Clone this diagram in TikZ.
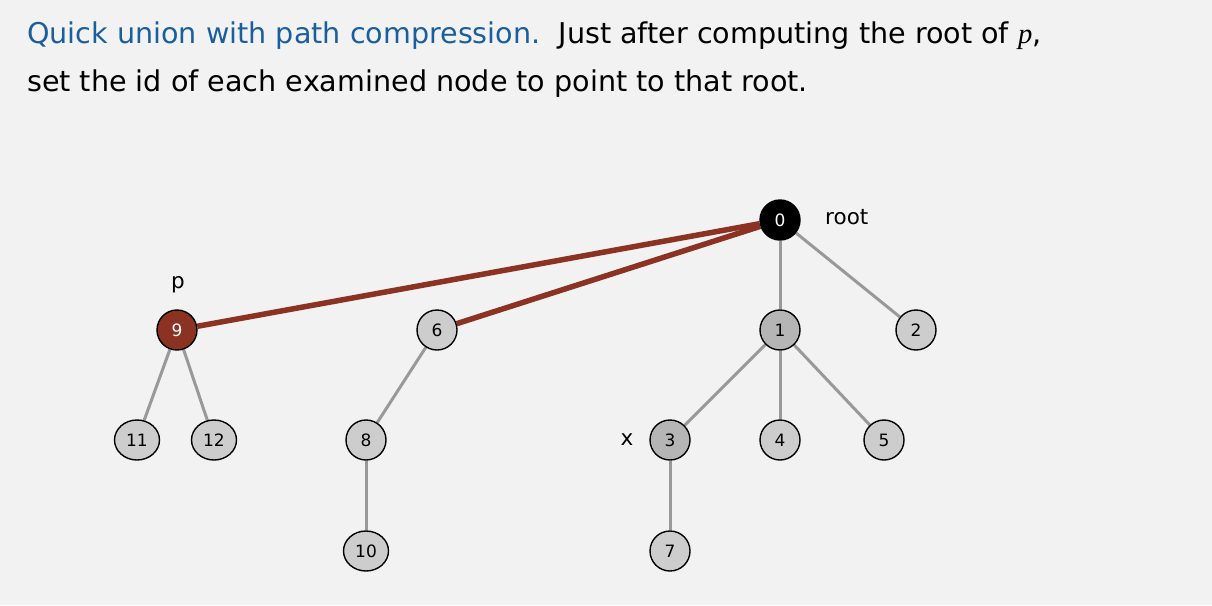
\documentclass[tikz,border=0pt]{standalone}
\usepackage{fontspec}
\setmainfont{DejaVu Sans}
\newfontfamily\serifit{Liberation Serif}
\usetikzlibrary{shapes.geometric,backgrounds}
\definecolor{bgc}{HTML}{F2F2F2}
\definecolor{titleblue}{HTML}{1A5E9E}
\definecolor{pathred}{HTML}{8B3222}
\definecolor{edgegray}{HTML}{999999}
\definecolor{nodegray}{HTML}{CDCDCD}
\definecolor{darkgray}{HTML}{B5B5B5}
\tikzset{
  tnode/.style={ellipse, draw=black, line width=1.4pt, fill=nodegray, minimum width=40, minimum height=40, inner sep=0pt, font=\fontsize{17}{17}\selectfont},
  wnode/.style={tnode, minimum width=45},
  dnode/.style={tnode, fill=darkgray},
  rnode/.style={tnode, fill=pathred, text=white},
  bnode/.style={tnode, fill=black, text=white},
  tedge/.style={draw=edgegray, line width=3pt},
  pedge/.style={draw=pathred, line width=5.5pt},
  lbl/.style={font=\fontsize{21.5}{21.5}\selectfont, inner sep=0pt},
  ttl/.style={anchor=base west, inner sep=0pt, font=\fontsize{28.6}{28.6}\selectfont},
}
\begin{document}
\begin{tikzpicture}[x=1pt,y=-1pt]
\useasboundingbox (0,0) rectangle (1212,605);
\node[ttl] (t1) at (27,43) {\textcolor{titleblue}{Quick union with path compression.}\ \ Just after computing the root of {\serifit\itshape p},};
\node[ttl] (t2) at (27,91) {set the id of each examined node to point to that root.};

\node[bnode] (n0) at (780,220) {0};
\node[rnode] (n9) at (177,330) {9};
\node[tnode] (n6) at (437,330) {6};
\node[dnode] (n1) at (780,330) {1};
\node[tnode] (n2) at (916,330) {2};
\node[wnode] (n11) at (137,440) {11};
\node[wnode] (n12) at (214,440) {12};
\node[tnode] (n8) at (366,440) {8};
\node[dnode] (n3) at (670,440) {3};
\node[tnode] (n4) at (780,440) {4};
\node[tnode] (n5) at (884,440) {5};
\node[wnode] (n10) at (366,551) {10};
\node[tnode] (n7) at (670,551) {7};

\node[lbl] (lp) at (178,285) {p};
\node[lbl, anchor=west] (lroot) at (825,217) {root};
\node[lbl] (lx) at (627,440) {x};

\begin{scope}[on background layer]
\fill[bgc] (0,0) rectangle (1212,605);
\draw[tedge] (n9) -- (n11);
\draw[tedge] (n9) -- (n12);
\draw[tedge] (n6) -- (n8);
\draw[tedge] (n8) -- (n10);
\draw[tedge] (n0) -- (n1);
\draw[tedge] (n0) -- (n2);
\draw[tedge] (n1) -- (n3);
\draw[tedge] (n1) -- (n4);
\draw[tedge] (n1) -- (n5);
\draw[tedge] (n3) -- (n7);
\draw[pedge] (n9) -- (n0);
\draw[pedge] (n6) -- (n0);
\end{scope}
\end{tikzpicture}
\end{document}
